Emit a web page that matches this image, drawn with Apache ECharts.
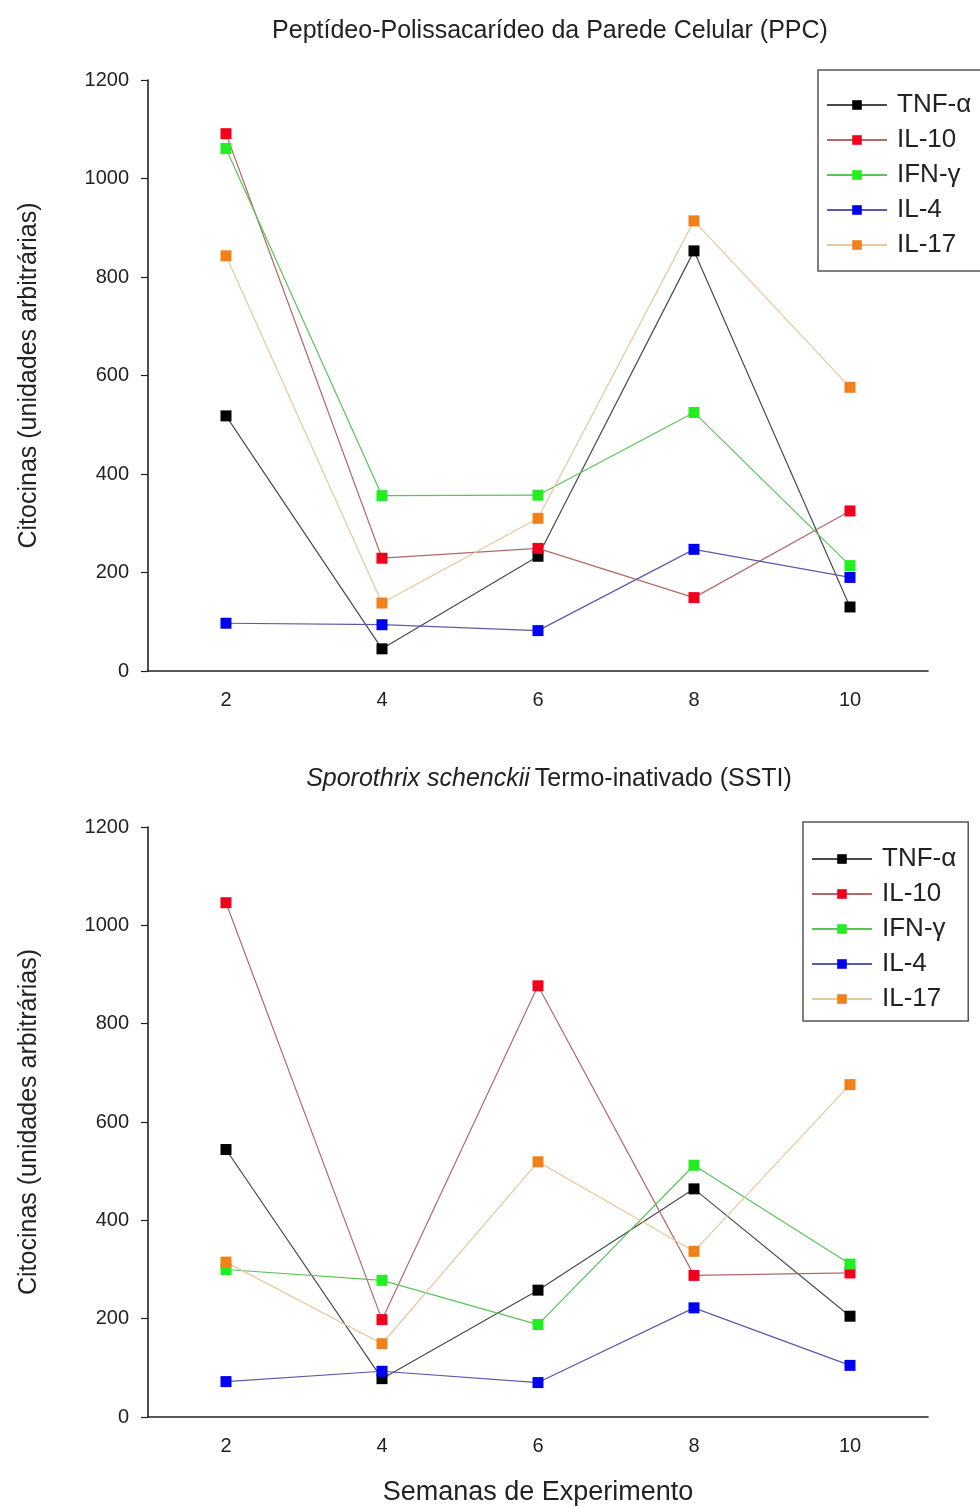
<!DOCTYPE html>
<html>
<head>
<meta charset="utf-8">
<script src="https://cdn.jsdelivr.net/npm/echarts@6/dist/echarts.min.js"></script>
<style>
  html, body { margin: 0; padding: 0; background: #ffffff; }
  #chart { width: 980px; height: 1508px; }
</style>
</head>
<body>
<div id="chart"></div>
<script>
// Weeks of experiment (x categories)
const weeks = ['2', '4', '6', '8', '10'];
const cytokines = ['TNF-α', 'IL-10', 'IFN-γ', 'IL-4', 'IL-17'];

// PPC stimulation (arbitrary units)
const ppcTNF  = [518, 45, 233, 853, 130];
const ppcIL10 = [1091, 229, 249, 149, 325];
const ppcIFN  = [1061, 356, 357, 525, 214];
const ppcIL4  = [97, 94, 82, 247, 190];
const ppcIL17 = [843, 138, 310, 914, 576];

// SSTI stimulation (arbitrary units)
const sstiTNF  = [544, 78, 258, 464, 205];
const sstiIL10 = [1046, 198, 877, 288, 293];
const sstiIFN  = [300, 278, 188, 512, 311];
const sstiIL4  = [72, 93, 70, 222, 105];
const sstiIL17 = [315, 149, 519, 337, 676];

const yTicks = [0, 200, 400, 600, 800, 1000, 1200];

const markerColors = ['#000000', '#f0001c', '#22ee22', '#0000f0', '#f0801a'];
const lineColors   = ['#4a4a4a', '#b06a6a', '#5cc25c', '#5a5aa8', '#e6c89a'];

const font = 'Liberation Sans, Arial, sans-serif';

function makeSeries(name, data, idx, axisIdx) {
  return {
    name: name,
    type: 'line',
    xAxisIndex: axisIdx,
    yAxisIndex: axisIdx,
    data: data,
    symbol: 'rect',
    symbolSize: 11,
    showAllSymbol: true,
    itemStyle: { color: markerColors[idx] },
    lineStyle: { color: lineColors[idx], width: 1.2 },
    emphasis: { disabled: true },
    animation: false,
    z: 3
  };
}

function makeX(gridIndex, withName) {
  const ax = {
    type: 'category',
    gridIndex: gridIndex,
    data: weeks,
    boundaryGap: true,
    axisLine: { lineStyle: { color: '#222', width: 1.6 } },
    axisTick: { alignWithLabel: true, length: 7, lineStyle: { color: '#222', width: 1.2 } },
    axisLabel: { fontFamily: font, fontSize: 20, color: '#222', margin: 19 },
    splitLine: { show: false }
  };
  if (withName) {
    ax.name = 'Semanas de Experimento';
    ax.nameLocation = 'middle';
    ax.nameGap = 62;
    ax.nameTextStyle = { fontFamily: font, fontSize: 27, color: '#222' };
  }
  return ax;
}

function makeY(gridIndex) {
  return {
    type: 'value',
    gridIndex: gridIndex,
    min: yTicks[0],
    max: yTicks[yTicks.length - 1],
    interval: yTicks[1] - yTicks[0],
    name: 'Citocinas (unidades arbitrárias)',
    nameLocation: 'middle',
    nameGap: 106,
    nameTextStyle: { fontFamily: font, fontSize: 25, color: '#222' },
    axisLine: { show: true, lineStyle: { color: '#222', width: 1.6 } },
    axisTick: { show: true, length: 7, lineStyle: { color: '#222', width: 1.2 } },
    axisLabel: {
      fontFamily: font, fontSize: 20, color: '#222', margin: 19,
      formatter: function (v) { return String(v); }
    },
    splitLine: { show: false }
  };
}

function makeLegend(left, top, fontSize, pad) {
  return {
    data: cytokines,
    orient: 'vertical',
    left: left,
    top: top,
    itemWidth: 60,
    itemHeight: 12,
    itemGap: 35 - fontSize,
    padding: pad,
    borderColor: '#555',
    borderWidth: 1.5,
    textStyle: {
      fontFamily: font, fontSize: fontSize, color: '#222',
      lineHeight: fontSize, padding: [0, 0, 0, 5]
    },
    selectedMode: false
  };
}

const chart = echarts.init(document.getElementById('chart'), null, { renderer: 'canvas' });

chart.setOption({
  backgroundColor: '#ffffff',
  animation: false,
  title: [
    {
      text: 'Peptídeo-Polissacarídeo da Parede Celular (PPC)',
      left: 545, top: 14, textAlign: 'center',
      textStyle: { fontFamily: font, fontSize: 25, fontWeight: 'normal', color: '#222' }
    },
    {
      text: '{i|Sporothrix schenckii} {n|Termo-inativado (SSTI)}',
      left: 544, top: 762, textAlign: 'center',
      textStyle: {
        fontWeight: 'normal',
        rich: {
          i: { fontFamily: font, fontSize: 25, fontStyle: 'italic', fontWeight: 'normal', color: '#222' },
          n: { fontFamily: font, fontSize: 25, fontWeight: 'normal', color: '#222' }
        }
      }
    }
  ],
  legend: [
    makeLegend(818, 70, 26, [22, 14, 13, 8]),
    makeLegend(803, 822, 26, [24, 12, 9, 8])
  ],
  grid: [
    { left: 148, top: 80, width: 780, height: 591, containLabel: false },
    { left: 148, top: 827, width: 780, height: 590, containLabel: false }
  ],
  xAxis: [makeX(0, false), makeX(1, true)],
  yAxis: [makeY(0), makeY(1)],
  series: [
    makeSeries('TNF-α', ppcTNF, 0, 0),
    makeSeries('IL-10', ppcIL10, 1, 0),
    makeSeries('IFN-γ', ppcIFN, 2, 0),
    makeSeries('IL-4', ppcIL4, 3, 0),
    makeSeries('IL-17', ppcIL17, 4, 0),
    makeSeries('TNF-α', sstiTNF, 0, 1),
    makeSeries('IL-10', sstiIL10, 1, 1),
    makeSeries('IFN-γ', sstiIFN, 2, 1),
    makeSeries('IL-4', sstiIL4, 3, 1),
    makeSeries('IL-17', sstiIL17, 4, 1)
  ]
});
</script>
</body>
</html>
